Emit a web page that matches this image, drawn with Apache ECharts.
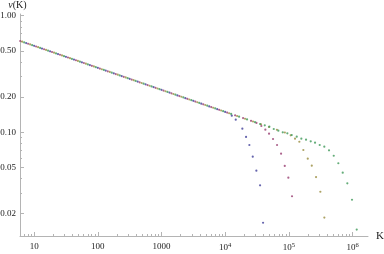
<!DOCTYPE html>
<html><head><meta charset="utf-8">
<script src="https://cdn.jsdelivr.net/npm/echarts@6/dist/echarts.min.js"></script>
<style>html,body{margin:0;padding:0;background:#fff}#c{width:384px;height:254px}</style>
</head><body><div id="c"></div>
<script>
// ---- data ----
const blueK = [7.5,10,13.3,17.8,23.7,31.6,42.2,56.2,75,100,133,178,237,316,422,562,750,1000,1334,1778,2371,3162,4217,5623,7499,10000,12700,14660,18620,21280,23990,27110,30900,35320,39360];
const blueV = [0.5821,0.5513,0.5221,0.4945,0.4683,0.4435,0.4200,0.3978,0.3767,0.3567,0.3378,0.3199,0.3030,0.2870,0.2718,0.2574,0.2437,0.2308,0.2186,0.2070,0.1960,0.1857,0.1758,0.1665,0.1577,0.1494,0.1386,0.128,0.1072,0.0910,0.0776,0.0616,0.0467,0.0350,0.0167];
const redK = [6.04,8.06,10.75,14.33,19.11,25.48,33.98,45.32,60.43,80.58,107.5,143.3,191.1,254.8,339.8,453.2,604.3,805.8,1075,1433,1911,2548,3398,4532,6043,8058,10750,14330,19110,25480,31000,36980,42760,48870,56460,65290,75470,86280,98240,112200];
const redV = [0.6064,0.5743,0.5439,0.5151,0.4878,0.4620,0.4375,0.4144,0.3924,0.3716,0.3519,0.3333,0.3156,0.2989,0.2831,0.2681,0.2539,0.2405,0.2277,0.2156,0.2042,0.1934,0.1832,0.1735,0.1643,0.1556,0.1474,0.1396,0.1322,0.1252,0.1200,0.113,0.105,0.0971,0.0874,0.0776,0.0654,0.0513,0.0407,0.0282];
const oliveK = [6.49,8.66,11.55,15.4,20.54,27.38,36.52,48.7,64.94,86.6,115.5,154,205.4,273.8,365.2,487,649.4,866,1155,1540,2054,2738,3652,4870,6494,8660,11550,15400,20540,27380,36520,48700,64940,86600,107000,125000,146200,169000,198200,229100,267400,312500,360900];
const oliveV = [0.5982,0.5665,0.5365,0.5081,0.4812,0.4558,0.4316,0.4087,0.3871,0.3666,0.3471,0.3288,0.3114,0.2949,0.2793,0.2645,0.2505,0.2372,0.2246,0.2127,0.2015,0.1908,0.1807,0.1711,0.1621,0.1535,0.1454,0.1377,0.1304,0.1235,0.1170,0.1108,0.1049,0.0994,0.094,0.0879,0.0828,0.0703,0.0593,0.0516,0.0412,0.0308,0.0185];
const greenK = [6.98,9.31,12.41,16.55,22.07,29.43,39.24,52.33,69.78,93.06,124.1,165.5,220.7,294.3,392.4,523.3,697.8,930.6,1241,1655,2207,2943,3924,5233,6978,9306,12410,16550,22070,29430,35320,41880,49430,57950,68420,80210,94750,111100,133100,157100,186200,220600,257800,305200,360600,427400,506900,598400,701600,828500,981700,1164000];
const greenV = [0.5901,0.5589,0.5292,0.5012,0.4747,0.4496,0.4258,0.4032,0.3819,0.3617,0.3424,0.3243,0.3072,0.2909,0.2755,0.2609,0.2471,0.2340,0.2216,0.2098,0.1987,0.1882,0.1782,0.1688,0.1599,0.1514,0.1434,0.1358,0.1286,0.1218,0.1176,0.1146,0.1115,0.1065,0.1030,0.0998,0.0978,0.0946,0.0915,0.0879,0.0862,0.0835,0.0813,0.0776,0.0751,0.0699,0.0628,0.0541,0.0449,0.0364,0.0263,0.0146];

const xMajorTicks = [10,100,1000,10000,100000,1000000];
const xMinorTicks = [7,8,9,20,30,40,50,60,70,80,90,200,300,400,500,600,700,800,900,2000,3000,4000,5000,6000,7000,8000,9000,20000,30000,40000,50000,60000,70000,80000,90000,200000,300000,400000,500000,600000,700000,800000,900000];
const yMajorTicks = [0.02,0.05,0.1,0.2,0.5,1.0];
const yMajorLabels = ['0.02','0.05','0.10','0.20','0.50','1.00'];
const yMinorTicks = [0.03,0.04,0.06,0.07,0.08,0.09,0.3,0.4,0.6,0.7,0.8,0.9];

const seriesNames = ['a','b','c','d'];
const seriesColors = ['#3f3d99','#993d71','#998b3d','#3d9957'];

// ---- chart ----
const zip = (k, v) => k.map((x, i) => [x, v[i]]);
const allData = [zip(blueK, blueV), zip(redK, redV), zip(oliveK, oliveV), zip(greenK, greenV)];
const FONT = 'Liberation Serif';
const AX = '#b4b4b4';
const xMin = 6, xMax = 1.75e6, yMin = 0.01285, yMax = 1.034;

const chart = echarts.init(document.getElementById('c'), null, {renderer: 'canvas'});
chart.setOption({
  animation: false,
  backgroundColor: '#fff',
  grid: {left: 20, right: 16, top: 14, bottom: 18, containLabel: false, outerBoundsMode: 'none'},
  xAxis: [{
    type: 'log', min: xMin, max: xMax, position: 'bottom',
    name: 'K', nameLocation: 'end', nameGap: 8,
    nameTextStyle: {fontFamily: FONT, fontSize: 11, color: '#222', verticalAlign: 'middle'},
    axisLine: {show: true, onZero: false, lineStyle: {color: AX, width: 1}},
    axisTick: {show: true, inside: true, length: 4, customValues: xMajorTicks, lineStyle: {color: AX}},
    minorTick: {show: false},
    splitLine: {show: false},
    axisLabel: {
      customValues: xMajorTicks, margin: 6, fontFamily: FONT, fontSize: 9, color: '#222',
      formatter: function (v) {
        const e = Math.round(Math.log10(v));
        if (e <= 3) return String(Math.round(v));
        return '{b|10}{s|' + e + '}';
      },
      rich: {
        b: {fontFamily: FONT, fontSize: 9, color: '#222'},
        s: {fontFamily: FONT, fontSize: 6.5, color: '#222', verticalAlign: 'bottom', padding: [0, 0, 5, 0]}
      }
    }
  }, {
    type: 'log', min: xMin, max: xMax, position: 'bottom',
    axisLine: {show: false},
    axisTick: {show: true, inside: true, length: 2, customValues: xMinorTicks, lineStyle: {color: AX}},
    axisLabel: {show: false},
    splitLine: {show: false}
  }],
  yAxis: [{
    type: 'log', min: yMin, max: yMax, position: 'left',
    name: '{i|ν}(K)', nameLocation: 'end', nameGap: 4,
    nameTextStyle: {fontFamily: FONT, fontSize: 10, color: '#222', align: 'center', padding: [0, 5, 0, 0],
      rich: {i: {fontFamily: FONT, fontStyle: 'italic', fontSize: 10, color: '#222'}}},
    axisLine: {show: true, onZero: false, lineStyle: {color: AX, width: 1}},
    axisTick: {show: true, inside: true, length: 4, customValues: yMajorTicks, lineStyle: {color: AX}},
    splitLine: {show: false},
    axisLabel: {
      customValues: yMajorTicks, margin: 4, fontFamily: FONT, fontSize: 9, color: '#222',
      formatter: function (v) {
        let best = 0;
        yMajorTicks.forEach((t, i) => { if (Math.abs(t - v) < Math.abs(yMajorTicks[best] - v)) best = i; });
        return yMajorLabels[best];
      }
    }
  }, {
    type: 'log', min: yMin, max: yMax, position: 'left',
    axisLine: {show: false},
    axisTick: {show: true, inside: true, length: 2, customValues: yMinorTicks, lineStyle: {color: AX}},
    axisLabel: {show: false},
    splitLine: {show: false}
  }],
  series: allData.map((d, i) => ({
    name: seriesNames[i], type: 'scatter', xAxisIndex: 0, yAxisIndex: 0,
    data: d, symbol: 'circle', symbolSize: 2.2,
    itemStyle: {color: seriesColors[i]}
  }))
});
</script>
</body></html>
